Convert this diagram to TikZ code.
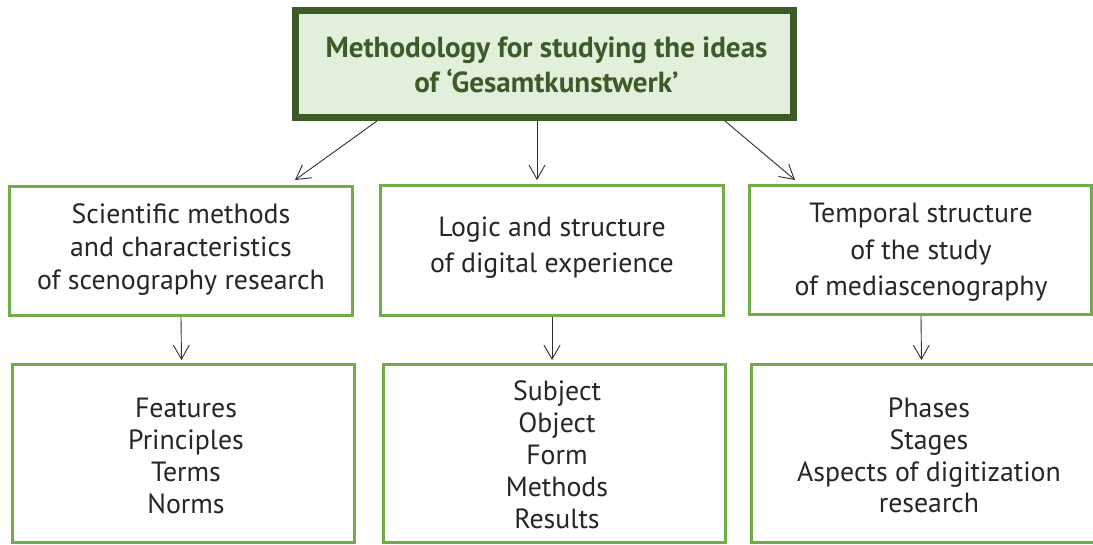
\documentclass[tikz,border=0pt]{standalone}
\usepackage{fontspec}
\setmainfont{PT Sans}
\usetikzlibrary{arrows.meta}
\definecolor{bgreen}{HTML}{70AD47}
\definecolor{dgreen}{HTML}{3D5A29}
\definecolor{lgreen}{HTML}{E2EFDA}
\definecolor{txt}{HTML}{262626}
\definecolor{arrc}{HTML}{303030}
\tikzset{
  box/.style={draw=bgreen,line width=3pt,inner sep=0pt,fill=white},
  topbox/.style={draw=dgreen,line width=7pt,inner sep=0pt,fill=lgreen},
  lbl/.style={align=center,inner sep=0pt,text=txt,font=\fontsize{27.8}{33}\selectfont},
  toplbl/.style={align=center,inner sep=0pt,text=dgreen,font=\fontsize{29.1}{34.5}\selectfont\bfseries},
  conn/.style={draw=arrc,line width=0.9pt,-{Straight Barb[length=14pt,width=16pt,line width=0.9pt]}}
}
\begin{document}
\begin{tikzpicture}[x=1pt,y=-1pt]
\clip (0,0) rectangle (1093,545);
\fill[white] (0,0) rectangle (1093,545);
% boxes
\node[topbox,minimum width=498pt,minimum height=107pt] (top) at (544.5,64) {};
\node[box,minimum width=343pt,minimum height=129pt] (l2) at (181,251) {};
\node[box,minimum width=343pt,minimum height=130pt] (m2) at (552,250.5) {};
\node[box,minimum width=342pt,minimum height=129pt] (r2) at (920.5,250) {};
\node[box,minimum width=342pt,minimum height=178pt] (l3) at (183.5,453.5) {};
\node[box,minimum width=342pt,minimum height=178pt] (m3) at (554.5,453.5) {};
\node[box,minimum width=360pt,minimum height=178pt] (r3) at (931.5,453.5) {};
% texts
\node[toplbl] (topt) at (546.5,65) {Methodology for studying the ideas\\of ‘Gesamtkunstwerk’};
\node[lbl] (l2t) at (181,249.5) {Scientific methods\\and characteristics\\of scenography research};
\node[lbl,font=\fontsize{27.8}{36.7}\selectfont] (m2t) at (552,247.5) {Logic and structure\\of digital experience};
\node[lbl,font=\fontsize{27.8}{36.7}\selectfont] (r2t) at (921,252.5) {Temporal structure\\of the study\\of mediascenography};
\node[lbl,font=\fontsize{27.8}{32.2}\selectfont] (l3t) at (186,456) {Features\\Principles\\Terms\\Norms};
\node[lbl,font=\fontsize{27.8}{32.1}\selectfont] (m3t) at (557,455) {Subject\\Object\\Form\\Methods\\Results};
\node[lbl,font=\fontsize{27.8}{31.7}\selectfont] (r3t) at (929,455.5) {Phases\\Stages\\Aspects of digitization\\research};
% connectors
\draw[conn] ([xshift=85pt]top.south west) -- ([xshift=-59pt,yshift=5pt]l2.north east);
\draw[conn] ([xshift=-7.5pt]top.south) -- ([xshift=-15pt,yshift=4pt]m2.north);
\draw[conn] ([xshift=-72pt]top.south east) -- ([xshift=47pt,yshift=4pt]r2.north west);
\draw[conn] (l2.south) -- ([xshift=-2pt,yshift=3pt]l3.north);
\draw[conn] (m2.south) -- ([xshift=-2.5pt,yshift=3pt]m3.north);
\draw[conn] ([xshift=0.5pt]r2.south) -- ([xshift=-10pt,yshift=3pt]r3.north);
\end{tikzpicture}
\end{document}
